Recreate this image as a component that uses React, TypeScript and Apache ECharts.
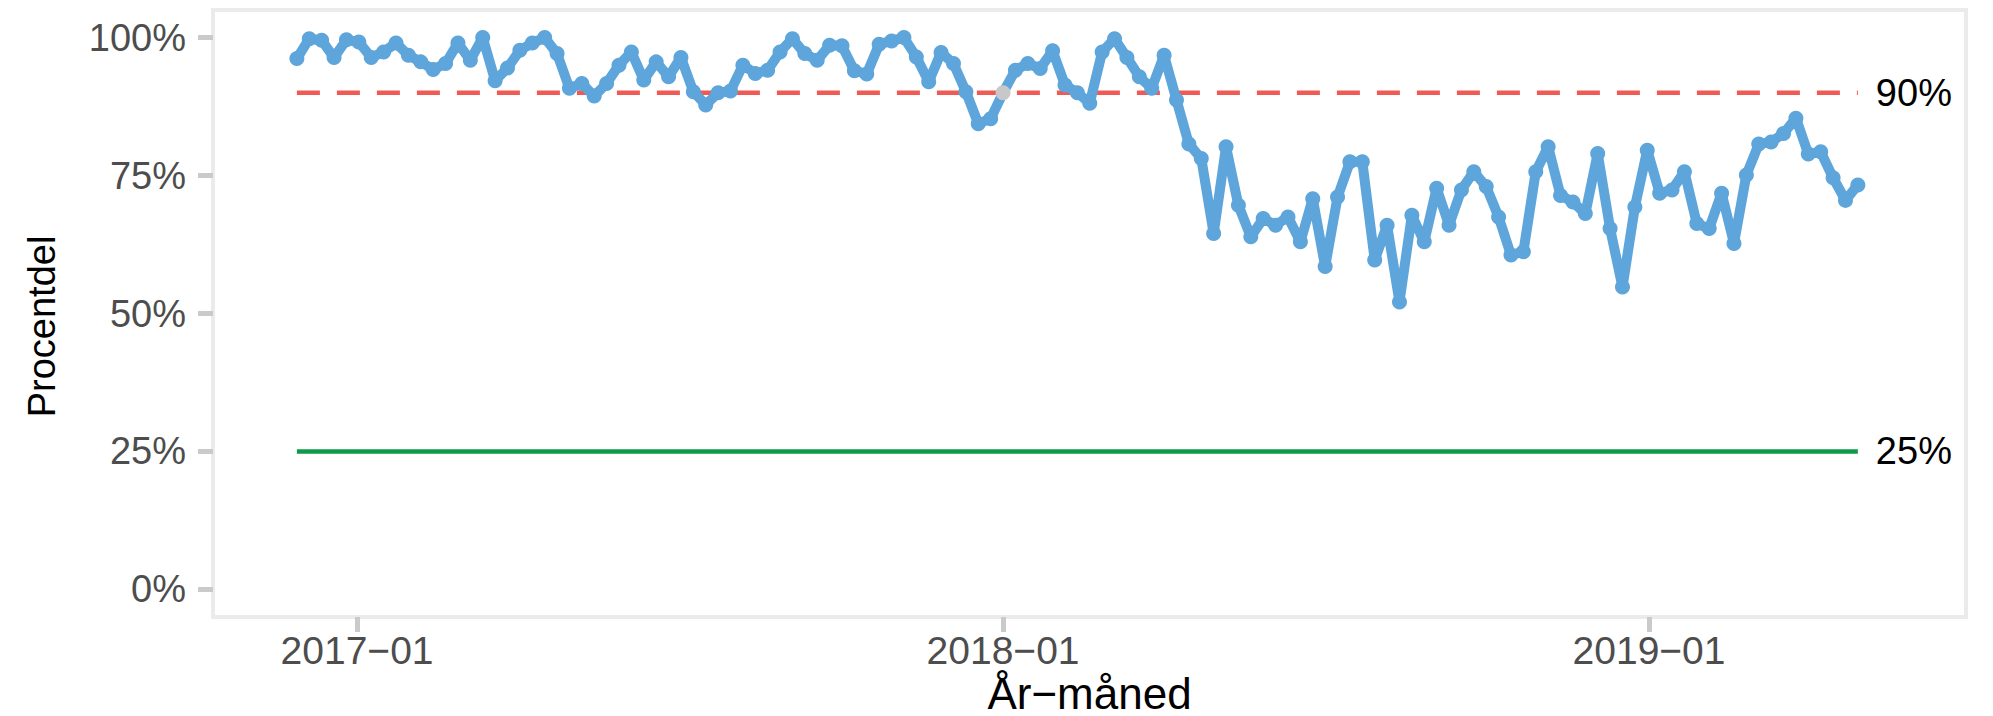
import { useEffect, useRef } from "react";
import * as echarts from "echarts";

// Weekly share (%), one value per week starting 2016-11-28
const firstWeek = "2016-11-28";
const pctPart1 = [
  96.2, 99.8, 99.5, 96.4, 99.6, 99.2, 96.4, 97.4, 99.0, 96.8, 95.6, 94.2, 95.3, 99.0, 95.9, 100,
  92.2, 94.5, 97.7, 99.0, 100, 97.1, 90.8, 91.7, 89.4, 91.7, 95.0, 97.4, 92.3, 95.6, 92.9, 96.4,
];
const pctPart2 = [
  90.2, 87.8, 90.0, 90.3, 95.0, 93.5, 94.1, 97.4, 99.8, 97.1, 95.9, 98.6, 98.5, 94.0, 93.4, 98.8,
  99.4, 100, 96.5, 92.0, 97.3, 95.3, 90.2, 84.4, 85.3, 90.0, 94.1, 95.3, 94.4, 97.6, 91.4, 90.0,
];
const pctPart3 = [
  88.1, 97.4, 99.8, 96.4, 92.9, 90.8, 96.8, 88.7, 80.7, 78.1, 64.5, 80.2, 69.6, 63.9, 67.2, 66.0,
  67.5, 63.0, 70.8, 58.5, 71.1, 77.5, 77.5, 59.7, 66.0, 52.1, 67.8, 63.0, 72.7, 66.0, 72.4, 75.7,
];
const pctPart4 = [
  73.0, 67.5, 60.6, 61.2, 75.7, 80.2, 71.4, 70.2, 68.1, 79.0, 65.4, 54.8, 69.3, 79.6, 71.8, 72.4,
  75.7, 66.3, 65.4, 71.8, 62.7, 75.1, 80.7, 81.1, 82.6, 85.4, 78.9, 79.3, 74.6, 70.5, 73.3,
];
const greyWeek = "2018-01-01";

const targetHigh = 90;
const targetLow = 25;
const targetHighLabel = "90%";
const targetLowLabel = "25%";

const yTicks = [0, 25, 50, 75, 100];
const xTicks = ["2017-01-01", "2018-01-01", "2019-01-01"];
const xTitle = "År\u2212måned";
const yTitle = "Procentdel";

const DAY = 86400000;
const toMs = (s: string) => {
  const [y, m, d] = s.split("-").map(Number);
  return Date.UTC(y, m - 1, d);
};

export default function App() {
  const ref = useRef<HTMLDivElement>(null);
  useEffect(() => {
    document.body.style.margin = "0";
    if (!ref.current) return;
    const chart = echarts.init(ref.current, undefined, { renderer: "svg" });

    const values = [...pctPart1, ...pctPart2, ...pctPart3, ...pctPart4];
    const start = toMs(firstWeek);
    const greyMs = toMs(greyWeek);
    const dates = values.map((_, i) => start + i * 7 * DAY);
    const first = dates[0];
    const last = dates[dates.length - 1];

    const mainData = values.map((v, i) =>
      dates[i] === greyMs
        ? { value: [dates[i], v], itemStyle: { color: "#C8C8C8" } }
        : { value: [dates[i], v] }
    );

    const font = "'Liberation Sans', Arial, Helvetica, sans-serif";
    const xMin = toMs("2017-01-01") - 81.4 * DAY;
    const xMax = toMs("2019-01-01") + 179.1 * DAY;

    chart.setOption({
      animation: false,
      backgroundColor: "#ffffff",
      grid: {
        left: 213,
        right: 27,
        top: 10,
        bottom: 99,
        outerBoundsMode: "none",
        containLabel: false,
        show: true,
        borderColor: "#EBEBEB",
        borderWidth: 4,
        backgroundColor: "transparent",
      },
      xAxis: {
        type: "value",
        min: xMin,
        max: xMax,
        name: xTitle,
        nameLocation: "middle",
        nameGap: 54,
        nameMoveOverlap: false,
        nameTextStyle: { fontSize: 44, lineHeight: 44, color: "#000", fontFamily: font },
        axisLine: { show: false, onZero: false },
        splitLine: { show: false },
        axisTick: {
          show: true,
          inside: false,
          length: 15,
          customValues: xTicks.map(toMs),
          lineStyle: { color: "#CACACA", width: 5 },
        },
        axisLabel: {
          customValues: xTicks.map(toMs),
          margin: 13,
          fontSize: 39,
          lineHeight: 40,
          color: "#4D4D4D",
          fontFamily: font,
          formatter: (v: number) => {
            const d = new Date(v);
            const m = d.getUTCMonth() + 1;
            return `${d.getUTCFullYear()}\u2212${m < 10 ? "0" + m : m}`;
          },
        },
      },
      yAxis: {
        type: "value",
        min: -5,
        max: 105,
        name: yTitle,
        nameLocation: "middle",
        nameGap: 152,
        nameMoveOverlap: false,
        nameRotate: 90,
        nameTextStyle: {
          fontSize: 38,
          color: "#000",
          fontFamily: font,
          padding: [0, 26, 0, 0],
        },
        axisLine: { show: false, onZero: false },
        splitLine: { show: false },
        axisTick: {
          show: true,
          inside: false,
          length: 15,
          customValues: yTicks,
          lineStyle: { color: "#CACACA", width: 5 },
        },
        axisLabel: {
          customValues: yTicks,
          margin: 27,
          fontSize: 38,
          color: "#4D4D4D",
          fontFamily: font,
          formatter: (v: number) => `${v}%`,
        },
      },
      series: [
        {
          type: "line",
          data: [
            [first, targetHigh],
            [last, targetHigh],
          ],
          symbol: "none",
          silent: true,
          z: 1,
          lineStyle: { color: "#F05A55", width: 4.5, type: [23, 17] },
          endLabel: {
            show: true,
            formatter: targetHighLabel,
            color: "#000",
            fontSize: 38,
            fontFamily: font,
            distance: 18,
          },
        },
        {
          type: "line",
          data: [
            [first, targetLow],
            [last, targetLow],
          ],
          symbol: "none",
          silent: true,
          z: 1,
          lineStyle: { color: "#0F9A49", width: 4.5 },
          endLabel: {
            show: true,
            formatter: targetLowLabel,
            color: "#000",
            fontSize: 38,
            fontFamily: font,
            distance: 18,
          },
        },
        {
          type: "line",
          data: mainData,
          z: 3,
          symbol: "circle",
          symbolSize: 15,
          showAllSymbol: true,
          lineStyle: { color: "#5DA5DA", width: 10 },
          itemStyle: { color: "#5DA5DA" },
        },
      ],
    });
    return () => chart.dispose();
  }, []);
  return <div ref={ref} style={{ width: 1993, height: 716 }} />;
}
